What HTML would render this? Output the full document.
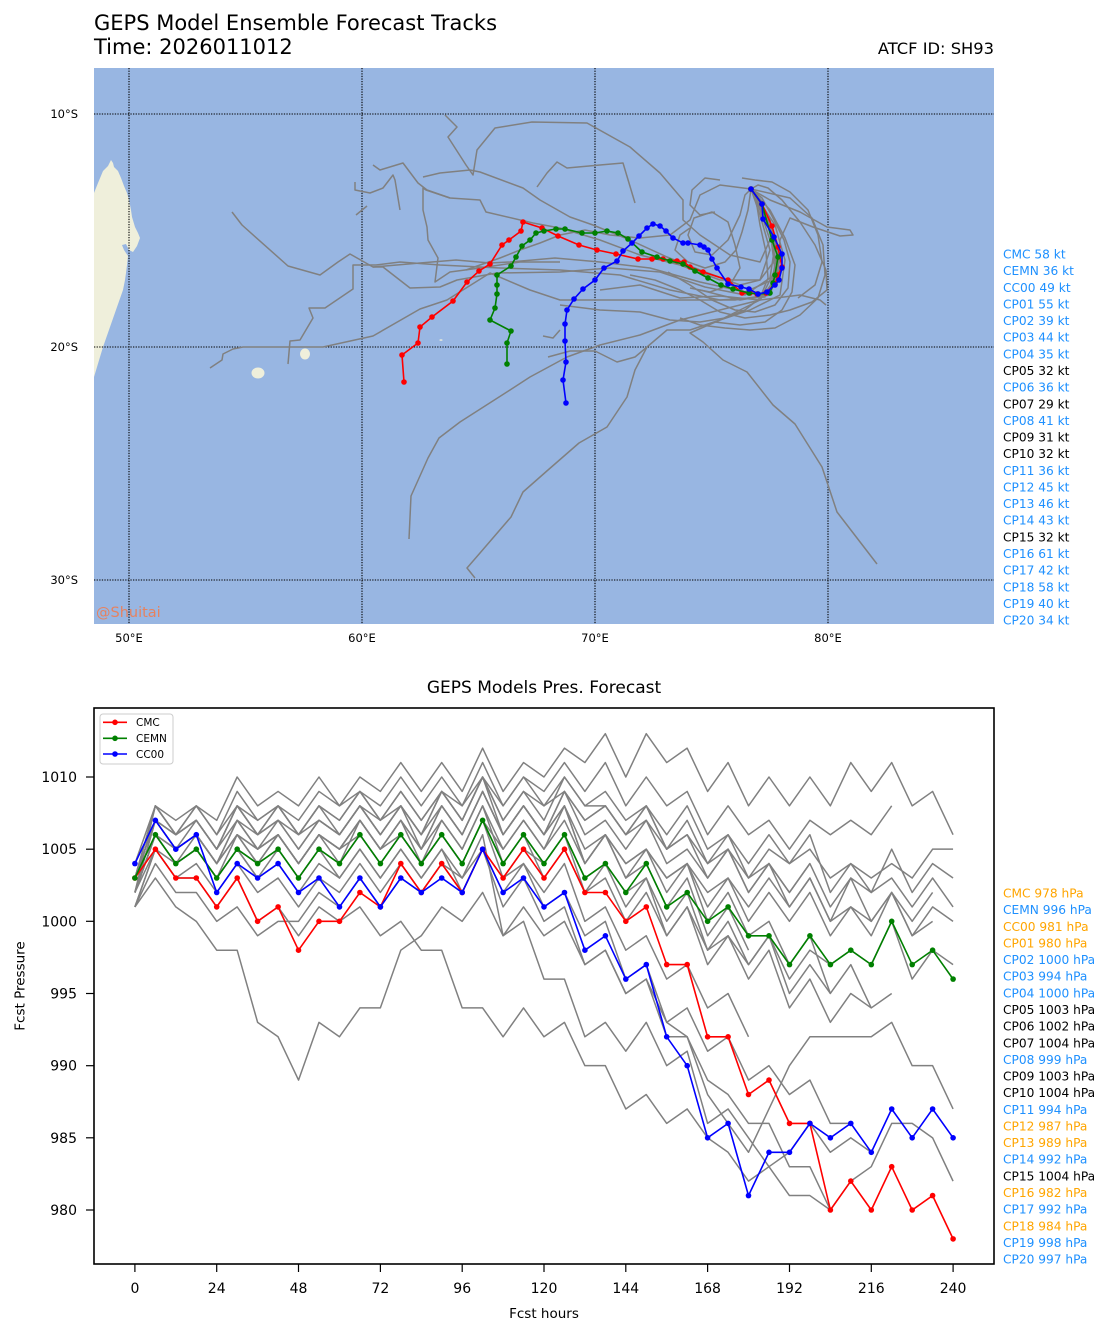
<!DOCTYPE html>
<html><head><meta charset="utf-8">
<style>
html,body{margin:0;padding:0;background:#fff;}
svg{display:block;font-family:"DejaVu Sans","Liberation Sans",sans-serif;}
.gp polyline{vector-effect:non-scaling-stroke;}
</style></head>
<body>
<svg width="1111" height="1335" viewBox="0 0 1111 1335" xmlns="http://www.w3.org/2000/svg">
<defs>
<clipPath id="mapclip"><rect x="94" y="68" width="900" height="556"/></clipPath>
<clipPath id="axclip"><rect x="94" y="708" width="900" height="556"/></clipPath>
<marker id="mR" viewBox="-3 -3 6 6" markerWidth="6" markerHeight="6" refX="0" refY="0" markerUnits="userSpaceOnUse"><circle r="2.8" fill="#ff0000"/></marker>
<marker id="mG" viewBox="-3 -3 6 6" markerWidth="6" markerHeight="6" refX="0" refY="0" markerUnits="userSpaceOnUse"><circle r="2.8" fill="#008000"/></marker>
<marker id="mB" viewBox="-3 -3 6 6" markerWidth="6" markerHeight="6" refX="0" refY="0" markerUnits="userSpaceOnUse"><circle r="2.8" fill="#0000ff"/></marker>
</defs>
<rect x="0" y="0" width="1111" height="1335" fill="#fff"/>

<!-- Titles -->
<text x="94" y="30" font-size="21" fill="#000">GEPS Model Ensemble Forecast Tracks</text>
<text x="94" y="54" font-size="21" fill="#000">Time: 2026011012</text>
<text x="994" y="54" font-size="16.3" fill="#000" text-anchor="end">ATCF ID: SH93</text>

<!-- MAP -->
<g clip-path="url(#mapclip)">
<rect x="94" y="68" width="900" height="556" fill="#98b6e2"/>
<polygon fill="#efefdb" points="80,193 94,193 98,183 103,171 108,166 111,160 113,163 114,167 118,171 121,178 124,186 127,193 129,200 131,210 132,217 135,227 138,233 140,238 137,246 133,252 129,250 126,244 122,245 124,250 128,256 127,265 126,273 125,280 123,290 117,307 110,327 103,347 97,367 94,377 80,377"/>
<ellipse cx="305" cy="354" rx="5" ry="5.5" fill="#efefdb"/>
<ellipse cx="258" cy="373" rx="6.5" ry="5.5" fill="#efefdb"/>
<ellipse cx="441" cy="340" rx="1.6" ry="0.8" fill="#efefdb"/>

<!-- grid -->
<g stroke="#000" stroke-width="1.1" stroke-dasharray="1.3 1.3" fill="none">
<line x1="129" y1="68" x2="129" y2="624"/>
<line x1="362" y1="68" x2="362" y2="624"/>
<line x1="595" y1="68" x2="595" y2="624"/>
<line x1="828" y1="68" x2="828" y2="624"/>
<line x1="94" y1="114" x2="994" y2="114"/>
<line x1="94" y1="347" x2="994" y2="347"/>
<line x1="94" y1="580" x2="994" y2="580"/>
</g>

<!-- gray ensemble tracks -->
<g fill="none" stroke="#808080" stroke-width="1.5" stroke-linejoin="round">
<polyline points="751,189 768,215 778,250 772,280 745,292 700,282 650,268 600,262 555,258 510,262 490,263 456,260 420,263 373,267 350,254 338,262 320,275 288,266 242,225 232,212"/>
<polyline points="751,189 765,210 775,245 770,278 745,295 705,287 660,272 610,268 560,272 497,273 457,280 440,287 410,288 383,267 373,267"/>
<polyline points="751,189 770,220 780,260 768,295 735,300 690,300 640,300 600,300 560,300 530,290 490,273 447,300 420,309 373,336 323,347 243,347 233,349 223,354 222,360 210,368"/>
<polyline points="751,189 772,230 782,265 765,297 720,300 670,290 620,275 560,270 500,268 440,265 400,262 376,265 353,265 353,289 325,308 309,308 313,318 300,340 290,341 288,364"/>
<polyline points="751,189 760,215 770,250 760,280 720,280 680,265 640,255 600,240 560,228 533,223 486,212 480,200 450,198 427,190 418,183 403,163 380,170 373,165"/>
<polyline points="560,262 520,262 480,268 450,272 435,282 438,258 428,240 427,227 423,210 423,188 426,190 450,198"/>
<polyline points="400,210 395,180 393,175 383,188 370,193 355,190 355,182"/>
<polyline points="356,215 367,206"/>
<polyline points="751,189 775,240 778,275 760,300 720,310 680,320 640,335 600,345 567,357 530,377 510,390 460,422 439,438 428,458 411,496 409,539"/>
<polyline points="751,189 770,230 775,270 760,300 720,320 690,330 667,330 647,347 635,370 627,397 607,427 579,443 548,470 523,492 511,517 480,553 467,568 475,578"/>
<polyline points="751,189 775,225 785,260 780,295 750,310 720,320 690,333 703,342 723,360 747,372 773,405 795,424 822,467 837,512 877,564"/>
<polyline points="548,357 570,351 595,351 617,362 635,357 647,347"/>
<polyline points="543,336 553,338 560,330"/>
<polyline points="751,189 760,210 770,240 760,262 730,255 700,235 683,220 683,200 660,173 630,147 587,123 532,122 495,128 477,150 473,175 466,165 448,137 457,127 445,115"/>
<polyline points="423,177 440,173 470,170 480,172 523,188 540,200 570,217 593,225 630,240 667,257 700,270 740,285 760,280 775,260 770,220 751,189"/>
<polyline points="537,187 547,173 557,162 567,168 600,165 623,163 635,203"/>
<polyline points="751,189 720,185 700,195 690,220 670,235 640,238 610,235 585,230 560,235 540,243 520,250 500,258 480,265 466,270"/>
<polyline points="751,189 770,200 800,212 827,227 850,230 853,235 840,236 813,227 790,218 780,240 778,270 770,295 740,300 700,290"/>
<polyline points="751,189 758,185 768,188 782,200 800,222 815,245 826,270 827,290 812,302 790,310 770,315 745,318 720,312 700,300 680,290 655,280 630,275"/>
<polyline points="751,189 745,195 740,215 728,240 712,255 695,252 688,235 694,218 712,212 728,222 735,245 740,268 730,285 710,292 690,288"/>
<polyline points="751,189 756,200 760,225 766,252 768,278 760,298 745,310 725,318 700,322 670,320 640,312 600,310 560,305"/>
<polyline points="751,189 762,198 772,216 784,240 790,262 788,288 775,305 755,312 735,310 712,300 690,285 668,272"/>
<polyline points="751,189 748,210 742,232 736,250 725,262 705,268 688,262 675,250 680,235 690,228"/>
<polyline points="742,178 755,180 772,182 790,192 808,210 818,235 822,262 815,285 798,298"/>
<polyline points="751,189 770,210 785,238 795,265 792,292 782,310 765,322 740,325 715,322"/>
<polyline points="720,180 705,178 692,190 690,205 700,215 715,212"/>
<polyline points="751,189 790,198 812,218 823,245 825,275 818,298 800,315 775,328 750,330 725,328 700,325 680,318"/>
<polyline points="600,290 640,285 680,298 720,296 760,300 800,295 820,300 826,305"/>
</g>

<!-- colored map tracks -->
<polyline fill="none" stroke="#ff0000" stroke-width="1.6" marker-start="url(#mR)" marker-mid="url(#mR)" marker-end="url(#mR)" points="751,189 762,204 772,226 778,247 782,267 778,275 775,284 766,293 757,294 750,293 742,293 728,280 703,272 690,267 684,262 677,261 663,259 652,259 638,259 616,254 597,250 579,245 558,236 542,228 523,222 521,231 509,240 502,245 490,264 479,271 467,282 453,301 432,317 420,327 418,343 402,355 404,382"/>
<polyline fill="none" stroke="#008000" stroke-width="1.6" marker-start="url(#mG)" marker-mid="url(#mG)" marker-end="url(#mG)" points="751,189 762,204 772,240 778,257 775,275 773,283 770,293 758,294 749,293 733,289 721,285 708,278 695,271 683,264 670,261 657,257 642,252 628,239 618,233 607,231 595,233 582,233 565,229 556,229 544,231 536,233 530,240 522,246 516,257 511,266 497,275 497,285 497,294 495,308 490,320 511,331 507,343 507,364"/>
<polyline fill="none" stroke="#0000ff" stroke-width="1.6" marker-start="url(#mB)" marker-mid="url(#mB)" marker-end="url(#mB)" points="751,189 762,204 763,219 774,237 782,254 782,268 779,280 775,285 767,292 758,294 749,289 741,287 728,284 717,268 712,259 708,250 704,247 700,245 688,243 683,243 673,238 666,231 660,226 653,224 647,228 639,236 632,243 623,251 617,261 604,268 595,280 583,289 574,299 567,310 565,324 565,341 566,362 563,380 566,403"/>

<text x="96" y="617" font-size="14.5" fill="#e6825f">@Shuitai</text>
</g>

<!-- map tick labels -->
<g font-size="11.5" fill="#000">
<text x="78" y="118" text-anchor="end">10°S</text>
<text x="78" y="351" text-anchor="end">20°S</text>
<text x="78" y="584" text-anchor="end">30°S</text>
<text x="129" y="642" text-anchor="middle">50°E</text>
<text x="362" y="642" text-anchor="middle">60°E</text>
<text x="595" y="642" text-anchor="middle">70°E</text>
<text x="828" y="642" text-anchor="middle">80°E</text>
</g>

<!-- wind labels -->
<g font-size="12.2">
<text x="1003" y="258.5" fill="#1e90ff">CMC 58 kt</text>
<text x="1003" y="275.1" fill="#1e90ff">CEMN 36 kt</text>
<text x="1003" y="291.8" fill="#1e90ff">CC00 49 kt</text>
<text x="1003" y="308.4" fill="#1e90ff">CP01 55 kt</text>
<text x="1003" y="325.1" fill="#1e90ff">CP02 39 kt</text>
<text x="1003" y="341.7" fill="#1e90ff">CP03 44 kt</text>
<text x="1003" y="358.3" fill="#1e90ff">CP04 35 kt</text>
<text x="1003" y="375.0" fill="#000">CP05 32 kt</text>
<text x="1003" y="391.6" fill="#1e90ff">CP06 36 kt</text>
<text x="1003" y="408.3" fill="#000">CP07 29 kt</text>
<text x="1003" y="424.9" fill="#1e90ff">CP08 41 kt</text>
<text x="1003" y="441.5" fill="#000">CP09 31 kt</text>
<text x="1003" y="458.2" fill="#000">CP10 32 kt</text>
<text x="1003" y="474.8" fill="#1e90ff">CP11 36 kt</text>
<text x="1003" y="491.5" fill="#1e90ff">CP12 45 kt</text>
<text x="1003" y="508.1" fill="#1e90ff">CP13 46 kt</text>
<text x="1003" y="524.7" fill="#1e90ff">CP14 43 kt</text>
<text x="1003" y="541.4" fill="#000">CP15 32 kt</text>
<text x="1003" y="558.0" fill="#1e90ff">CP16 61 kt</text>
<text x="1003" y="574.7" fill="#1e90ff">CP17 42 kt</text>
<text x="1003" y="591.3" fill="#1e90ff">CP18 58 kt</text>
<text x="1003" y="607.9" fill="#1e90ff">CP19 40 kt</text>
<text x="1003" y="624.6" fill="#1e90ff">CP20 34 kt</text>
</g>

<!-- PRESSURE CHART -->
<text x="544" y="693" font-size="17" text-anchor="middle" fill="#000">GEPS Models Pres. Forecast</text>

<g clip-path="url(#axclip)">
<g class="gp" transform="matrix(3.409,0,0,-14.433,134.9,15354.33)" fill="none" stroke="#808080" stroke-width="1.5" stroke-linejoin="round">
<polyline points="0,1002 6,1008 12,1007 18,1008 24,1007 30,1010 36,1008 42,1009 48,1008 54,1010 60,1008 66,1010 72,1009 78,1011 84,1009 90,1011 96,1009 102,1012 108,1009 114,1011 120,1010 126,1012 132,1011 138,1013 144,1010 150,1013 156,1011 162,1012 168,1009 174,1011 180,1008 186,1010 192,1008 198,1010 204,1008 210,1011 216,1009 222,1011 228,1008 234,1009 240,1006"/>
<polyline points="0,1003 6,1008 12,1006 18,1008 24,1006 30,1009 36,1007 42,1008 48,1007 54,1009 60,1008 66,1009 72,1008 78,1010 84,1008 90,1010 96,1008 102,1011 108,1008 114,1010 120,1009 126,1011 132,1009 138,1011 144,1008 150,1010 156,1008 162,1009 168,1006 174,1008 180,1006 186,1007 192,1005 198,1007 204,1006 210,1007 216,1006 222,1008"/>
<polyline points="0,1002 6,1007 12,1006 18,1007 24,1005 30,1008 36,1006 42,1008 48,1006 54,1008 60,1007 66,1009 72,1007 78,1009 84,1007 90,1009 96,1008 102,1010 108,1007 114,1009 120,1008 126,1010 132,1008 138,1009 144,1007 150,1008 156,1006 162,1008 168,1005 174,1006 180,1004 186,1006 192,1004 198,1005 204,1003 210,1004 216,1003 222,1004 228,1003 234,1005 240,1005"/>
<polyline points="0,1003 6,1008 12,1006 18,1007 24,1005 30,1008 36,1006 42,1007 48,1006 54,1008 60,1006 66,1008 72,1007 78,1008 84,1006 90,1009 96,1007 102,1010 108,1007 114,1009 120,1007 126,1010 132,1008 138,1008 144,1006 150,1008 156,1005 162,1007 168,1004 174,1006 180,1003 186,1005 192,1004 198,1006 204,1002 210,1004 216,1002 222,1005 228,1002 234,1004 240,1003"/>
<polyline points="0,1002 6,1007 12,1005 18,1006 24,1004 30,1007 36,1005 42,1007 48,1005 54,1007 60,1006 66,1008 72,1006 78,1008 84,1005 90,1008 96,1006 102,1009 108,1006 114,1008 120,1006 126,1009 132,1006 138,1007 144,1005 150,1007 156,1004 162,1005 168,1003 174,1005 180,1002 186,1004 192,1002 198,1004 204,1001 210,1003 216,1002 222,1003 228,1001 234,1003 240,1001"/>
<polyline points="0,1002 6,1006 12,1005 18,1006 24,1004 30,1006 36,1005 42,1006 48,1004 54,1006 60,1005 66,1007 72,1005 78,1007 84,1005 90,1007 96,1005 102,1008 108,1005 114,1007 120,1005 126,1008 132,1004 138,1006 144,1003 150,1005 156,1003 162,1004 168,1001 174,1003 180,1000 186,1002 192,1000 198,1002 204,999 210,1001 216,1000 222,1002 228,999 234,1001 240,1000"/>
<polyline points="0,1001 6,1005 12,1004 18,1005 24,1003 30,1005 36,1004 42,1005 48,1003 54,1005 60,1004 66,1006 72,1004 78,1006 84,1004 90,1006 96,1004 102,1007 108,1004 114,1006 120,1003 126,1005 132,1002 138,1003 144,1000 150,1002 156,999 162,1001 168,998 174,999 180,997 186,999 192,996 198,998 204,997 210,998 216,997 222,1000 228,996 234,998 240,997"/>
<polyline points="0,1002 6,1006 12,1004 18,1005 24,1003 30,1005 36,1003 42,1004 48,1002 54,1004 60,1003 66,1005 72,1003 78,1005 84,1003 90,1005 96,1002 102,1005 108,1002 114,1004 120,1001 126,1002 132,999 138,1000 144,996 150,997 156,993 162,992 168,988 174,986 180,984 186,987 192,990 198,992 204,992 210,992 216,992 222,993 228,990 234,990 240,987"/>
<polyline points="0,1001 6,1005 12,1003 18,1004 24,1002 30,1004 36,1002 42,1003 48,1001 54,1003 60,1002 66,1004 72,1002 78,1004 84,1002 90,1004 96,1002 102,1005 108,1001 114,1003 120,1000 126,1001 132,997 138,998 144,995 150,996 156,992 162,992 168,989 174,988 180,986 186,986 192,983 198,983 204,980 210,982 216,983 222,986 228,986 234,985 240,982"/>
<polyline points="0,1001 6,1003 12,1001 18,1000 24,998 30,998 36,993 42,992 48,989 54,993 60,992 66,994 72,994 78,998 84,999 90,1001 96,1000 102,1002 108,999 114,1001 120,999 126,1000 132,997 138,998 144,995 150,996 156,993 162,994 168,991 174,992 180,989 186,990 192,988 198,989 204,986 210,986"/>
<polyline points="0,1002 6,1005 12,1003 18,1003 24,1001 30,1003 36,1000 42,1001 48,999 54,1001 60,1000 66,1001 72,999 78,1000 84,998 90,998 96,994 102,994 108,992 114,994 120,992 126,993 132,990 138,990 144,987 150,988 156,986 162,987 168,985 174,984 180,982 186,983 192,981 198,981 204,980"/>
<polyline points="0,1003 6,1007 12,1005 18,1006 24,1004 30,1006 36,1004 42,1006 48,1004 54,1006 60,1005 66,1007 72,1005 78,1007 84,1004 90,1007 96,1005 102,1008 108,1004 114,1006 120,1004 126,1006 132,1002 138,1004 144,1001 150,1003 156,999 162,1001 168,997 174,999 180,996 186,998 192,994 198,996 204,993 210,995 216,994 222,995"/>
<polyline points="0,1002 6,1006 12,1004 18,1005 24,1003 30,1005 36,1003 42,1005 48,1003 54,1005 60,1003 66,1005 72,1003 78,1005 84,1003 90,1005 96,1003 102,1006 108,999 114,1000 120,996 126,996 132,992 138,993 144,991 150,993 156,990 162,991 168,986 174,987 180,985 186,983 192,984 198,986 204,984 210,985 216,984"/>
<polyline points="0,1003 6,1007 12,1006 18,1007 24,1005 30,1007 36,1006 42,1007 48,1005 54,1007 60,1006 66,1008 72,1006 78,1008 84,1006 90,1008 96,1006 102,1009 108,1006 114,1008 120,1006 126,1008 132,1005 138,1006 144,1004 150,1005 156,1002 162,1004 168,1000 174,1002 180,999 186,1000 192,997 198,999 204,995 210,997 216,994"/>
<polyline points="0,1002 6,1006 12,1004 18,1006 24,1004 30,1007 36,1005 42,1006 48,1004 54,1006 60,1005 66,1006 72,1004 78,1006 84,1004 90,1006 96,1004 102,1007 108,1003 114,1004 120,1002 126,1004 132,1000 138,1001 144,998 150,999 156,996 162,997 168,994 174,995 180,992"/>
<polyline points="0,1004 6,1008 12,1006 18,1008 24,1006 30,1008 36,1007 42,1008 48,1006 54,1008 60,1007 66,1009 72,1007 78,1009 84,1007 90,1009 96,1007 102,1010 108,1006 114,1008 120,1006 126,1008 132,1004 138,1006 144,1003 150,1004 156,1001 162,1003 168,999 174,1001 180,998"/>
<polyline points="0,1003 6,1007 12,1005 18,1006 24,1004 30,1006 36,1005 42,1006 48,1004 54,1006 60,1005 66,1007 72,1005 78,1006 84,1004 90,1006 96,1004 102,1007 108,1005 114,1007 120,1005 126,1007 132,1004 138,1006 144,1004 150,1005 156,1003 162,1004 168,1002 174,1003 180,1001 186,1003 192,1001 198,1003 204,1000 210,1003 216,1000 222,1002 228,1000 234,1002"/>
<polyline points="0,1002 6,1006 12,1004 18,1005 24,1003 30,1006 36,1004 42,1006 48,1004 54,1006 60,1004 66,1007 72,1005 78,1007 84,1005 90,1008 96,1006 102,1009 108,1006 114,1008 120,1006 126,1009 132,1007 138,1008 144,1006 150,1008 156,1005 162,1006 168,1003 174,1005 180,1002 186,1004 192,1001 198,1003 204,1000 210,1001 216,999 222,1002 228,999 234,1000"/>
<polyline points="0,1001 6,1004 12,1002 18,1002 24,1000 30,1001 36,999 42,1000 48,1000 54,1002 60,1001 66,1003 72,1001 78,1003 84,1002 90,1004 96,1003 102,1005 108,1003 114,1005 120,1004 126,1006 132,1003 138,1004 144,1002 150,1003 156,1000 162,1002 168,998 174,1000 180,997 186,999 192,995 198,997 204,995"/>
<polyline points="0,1003 6,1006 12,1005 18,1007 24,1005 30,1008 36,1006 42,1008 48,1006 54,1007 60,1006 66,1008 72,1006 78,1008 84,1006 90,1009 96,1007 102,1010 108,1008 114,1010 120,1008 126,1009 132,1007 138,1008 144,1006 150,1007 156,1005 162,1006 168,1004 174,1005 180,1003 186,1004 192,1002 198,1004"/>
</g>

<polyline fill="none" stroke="#ff0000" stroke-width="1.6" marker-start="url(#mR)" marker-mid="url(#mR)" marker-end="url(#mR)" points="134.9,878.0 155.4,849.2 175.8,878.0 196.3,878.0 216.7,906.9 237.2,878.0 257.6,921.3 278.1,906.9 298.5,950.2 319.0,921.3 339.5,921.3 359.9,892.5 380.4,906.9 400.8,863.6 421.3,892.5 441.7,863.6 462.2,892.5 482.6,849.2 503.1,878.0 523.5,849.2 544.0,878.0 564.5,849.2 584.9,892.5 605.4,892.5 625.8,921.3 646.3,906.9 666.7,964.6 687.2,964.6 707.6,1036.8 728.1,1036.8 748.5,1094.5 769.0,1080.1 789.5,1123.4 809.9,1123.4 830.4,1210.0 850.8,1181.1 871.3,1210.0 891.7,1166.7 912.2,1210.0 932.6,1195.6 953.1,1238.9"/>
<polyline fill="none" stroke="#008000" stroke-width="1.6" marker-start="url(#mG)" marker-mid="url(#mG)" marker-end="url(#mG)" points="134.9,878.0 155.4,834.7 175.8,863.6 196.3,849.2 216.7,878.0 237.2,849.2 257.6,863.6 278.1,849.2 298.5,878.0 319.0,849.2 339.5,863.6 359.9,834.7 380.4,863.6 400.8,834.7 421.3,863.6 441.7,834.7 462.2,863.6 482.6,820.3 503.1,863.6 523.5,834.7 544.0,863.6 564.5,834.7 584.9,878.0 605.4,863.6 625.8,892.5 646.3,863.6 666.7,906.9 687.2,892.5 707.6,921.3 728.1,906.9 748.5,935.8 769.0,935.8 789.5,964.6 809.9,935.8 830.4,964.6 850.8,950.2 871.3,964.6 891.7,921.3 912.2,964.6 932.6,950.2 953.1,979.1"/>
<polyline fill="none" stroke="#0000ff" stroke-width="1.6" marker-start="url(#mB)" marker-mid="url(#mB)" marker-end="url(#mB)" points="134.9,863.6 155.4,820.3 175.8,849.2 196.3,834.7 216.7,892.5 237.2,863.6 257.6,878.0 278.1,863.6 298.5,892.5 319.0,878.0 339.5,906.9 359.9,878.0 380.4,906.9 400.8,878.0 421.3,892.5 441.7,878.0 462.2,892.5 482.6,849.2 503.1,892.5 523.5,878.0 544.0,906.9 564.5,892.5 584.9,950.2 605.4,935.8 625.8,979.1 646.3,964.6 666.7,1036.8 687.2,1065.7 707.6,1137.8 728.1,1123.4 748.5,1195.6 769.0,1152.3 789.5,1152.3 809.9,1123.4 830.4,1137.8 850.8,1123.4 871.3,1152.3 891.7,1109.0 912.2,1137.8 932.6,1109.0 953.1,1137.8"/>

<!-- legend -->
<rect x="100" y="714" width="73" height="50" rx="3" ry="3" fill="#fff" fill-opacity="0.85" stroke="#cccccc" stroke-width="1"/>
<line x1="103" y1="722.3" x2="127" y2="722.3" stroke="#ff0000" stroke-width="1.6"/><circle cx="115" cy="722.3" r="2.8" fill="#ff0000"/>
<line x1="103" y1="738.3" x2="127" y2="738.3" stroke="#008000" stroke-width="1.6"/><circle cx="115" cy="738.3" r="2.8" fill="#008000"/>
<line x1="103" y1="754" x2="127" y2="754" stroke="#0000ff" stroke-width="1.6"/><circle cx="115" cy="754" r="2.8" fill="#0000ff"/>
<g font-size="10.5" fill="#000">
<text x="136" y="726">CMC</text>
<text x="136" y="742">CEMN</text>
<text x="136" y="757.8">CC00</text>
</g>
</g>

<!-- axes frame -->
<rect x="94" y="708" width="900" height="556" fill="none" stroke="#000" stroke-width="1.6"/>

<!-- y ticks -->
<g stroke="#000" stroke-width="1.2">
<line x1="86" y1="777" x2="94" y2="777"/>
<line x1="86" y1="849.2" x2="94" y2="849.2"/>
<line x1="86" y1="921.3" x2="94" y2="921.3"/>
<line x1="86" y1="993.5" x2="94" y2="993.5"/>
<line x1="86" y1="1065.7" x2="94" y2="1065.7"/>
<line x1="86" y1="1137.8" x2="94" y2="1137.8"/>
<line x1="86" y1="1210" x2="94" y2="1210"/>
</g>
<g font-size="14" fill="#000" text-anchor="end">
<text x="77" y="782">1010</text>
<text x="77" y="854.2">1005</text>
<text x="77" y="926.3">1000</text>
<text x="77" y="998.5">995</text>
<text x="77" y="1070.7">990</text>
<text x="77" y="1142.8">985</text>
<text x="77" y="1215">980</text>
</g>

<!-- x ticks -->
<g stroke="#000" stroke-width="1.2">
<line x1="134.9" y1="1264" x2="134.9" y2="1272"/>
<line x1="216.7" y1="1264" x2="216.7" y2="1272"/>
<line x1="298.5" y1="1264" x2="298.5" y2="1272"/>
<line x1="380.4" y1="1264" x2="380.4" y2="1272"/>
<line x1="462.2" y1="1264" x2="462.2" y2="1272"/>
<line x1="544.0" y1="1264" x2="544.0" y2="1272"/>
<line x1="625.8" y1="1264" x2="625.8" y2="1272"/>
<line x1="707.6" y1="1264" x2="707.6" y2="1272"/>
<line x1="789.5" y1="1264" x2="789.5" y2="1272"/>
<line x1="871.3" y1="1264" x2="871.3" y2="1272"/>
<line x1="953.1" y1="1264" x2="953.1" y2="1272"/>
</g>
<g font-size="14" fill="#000" text-anchor="middle">
<text x="134.9" y="1293">0</text>
<text x="216.7" y="1293">24</text>
<text x="298.5" y="1293">48</text>
<text x="380.4" y="1293">72</text>
<text x="462.2" y="1293">96</text>
<text x="544.0" y="1293">120</text>
<text x="625.8" y="1293">144</text>
<text x="707.6" y="1293">168</text>
<text x="789.5" y="1293">192</text>
<text x="871.3" y="1293">216</text>
<text x="953.1" y="1293">240</text>
</g>
<text x="544" y="1318" font-size="13.5" text-anchor="middle" fill="#000">Fcst hours</text>
<text x="0" y="0" font-size="13.5" text-anchor="middle" fill="#000" transform="translate(24.5,986) rotate(-90)">Fcst Pressure</text>

<!-- pressure labels -->
<g font-size="12.2">
<text x="1003" y="897.5" fill="#ffa500">CMC 978 hPa</text>
<text x="1003" y="914.1" fill="#1e90ff">CEMN 996 hPa</text>
<text x="1003" y="930.8" fill="#ffa500">CC00 981 hPa</text>
<text x="1003" y="947.4" fill="#ffa500">CP01 980 hPa</text>
<text x="1003" y="964.1" fill="#1e90ff">CP02 1000 hPa</text>
<text x="1003" y="980.7" fill="#1e90ff">CP03 994 hPa</text>
<text x="1003" y="997.3" fill="#1e90ff">CP04 1000 hPa</text>
<text x="1003" y="1014.0" fill="#000">CP05 1003 hPa</text>
<text x="1003" y="1030.6" fill="#000">CP06 1002 hPa</text>
<text x="1003" y="1047.3" fill="#000">CP07 1004 hPa</text>
<text x="1003" y="1063.9" fill="#1e90ff">CP08 999 hPa</text>
<text x="1003" y="1080.5" fill="#000">CP09 1003 hPa</text>
<text x="1003" y="1097.2" fill="#000">CP10 1004 hPa</text>
<text x="1003" y="1113.8" fill="#1e90ff">CP11 994 hPa</text>
<text x="1003" y="1130.5" fill="#ffa500">CP12 987 hPa</text>
<text x="1003" y="1147.1" fill="#ffa500">CP13 989 hPa</text>
<text x="1003" y="1163.7" fill="#1e90ff">CP14 992 hPa</text>
<text x="1003" y="1180.4" fill="#000">CP15 1004 hPa</text>
<text x="1003" y="1197.0" fill="#ffa500">CP16 982 hPa</text>
<text x="1003" y="1213.7" fill="#1e90ff">CP17 992 hPa</text>
<text x="1003" y="1230.3" fill="#ffa500">CP18 984 hPa</text>
<text x="1003" y="1246.9" fill="#1e90ff">CP19 998 hPa</text>
<text x="1003" y="1263.6" fill="#1e90ff">CP20 997 hPa</text>
</g>
</svg>
</body></html>
